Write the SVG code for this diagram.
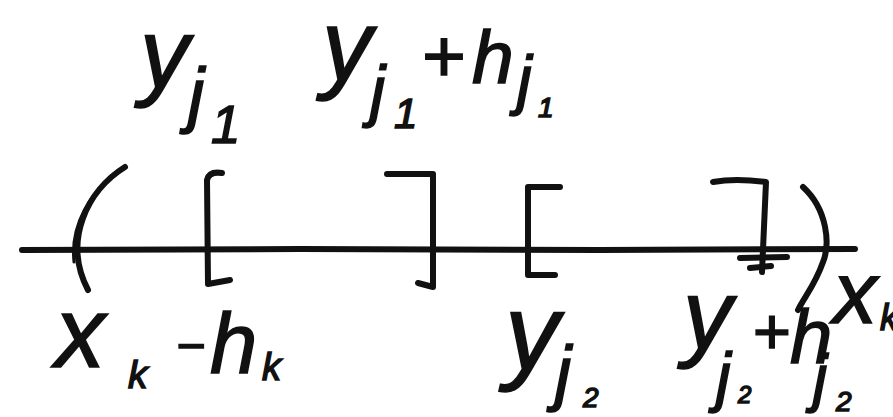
<svg xmlns="http://www.w3.org/2000/svg" width="893" height="417" viewBox="0 0 893 417">
<style>
.ink{fill:none;stroke:#111;stroke-width:6;stroke-linecap:round;stroke-linejoin:round}
.thin{fill:none;stroke:#111;stroke-width:3;stroke-linecap:round}
.lbl{font-family:"Liberation Sans",Arial,sans-serif;font-style:italic;fill:#111;stroke:#111;stroke-width:1.5}
</style>
<rect width="893" height="417" fill="#fff"/>
<g id="axis">
<path class="ink" d="M22,250 L300,249 L600,250 L855,249"/>
<path class="ink" d="M740,258 L787,257"/>
</g>
<g id="brackets">
<path class="ink" d="M125,167 C88,190 62,240 88,290"/>
<path class="thin" d="M119,170 C90,192 70,225 74,262"/>
<path class="ink" d="M222,173 Q209,171 207,180 L208,284 L230,280"/>
<path class="ink" d="M387,174 L433,174 L433,287 L418,283"/>
<path class="ink" d="M560,187 L528,187 L528,275 L555,275"/>
<path class="ink" d="M713,182 Q735,178 766,182 L762,272"/>
<path class="ink" d="M750,268 L771,266"/>
<path class="ink" d="M803,187 C828,210 830,245 823,262 C815,285 805,296 798,310"/>
</g>
<g id="labels">
<text id="lbl-yj1" class="lbl"><tspan x="140" y="88" font-size="98">y</tspan><tspan x="188" y="119" font-size="73">j</tspan><tspan x="211" y="143" font-size="53">1</tspan></text>
<text id="lbl-yj1-plus-hj1" class="lbl"><tspan x="322" y="80" font-size="100">y</tspan><tspan x="370" y="114" font-size="68">j</tspan><tspan x="394" y="128" font-size="42">1</tspan><tspan x="421" y="82" font-size="75">+</tspan><tspan x="472" y="83" font-size="75">h</tspan><tspan x="517" y="102" font-size="66">j</tspan><tspan x="538" y="117" font-size="28">1</tspan></text>
<text id="lbl-xk-minus-hk" class="lbl"><tspan x="55" y="367" font-size="100">x</tspan><tspan x="128" y="388" font-size="39">k</tspan><tspan x="176" y="363" font-size="50">−</tspan><tspan x="210" y="373" font-size="85">h</tspan><tspan x="262" y="380" font-size="38">k</tspan></text>
<text id="lbl-yj2" class="lbl"><tspan x="505" y="370" font-size="108">y</tspan><tspan x="555" y="397" font-size="73">j</tspan><tspan x="583" y="407" font-size="28">2</tspan></text>
<text id="lbl-yj2-plus-hj2" class="lbl"><tspan x="683" y="349" font-size="98">y</tspan><tspan x="716" y="399" font-size="66">j</tspan><tspan x="738" y="403" font-size="24">2</tspan><tspan x="752" y="354" font-size="65">+</tspan><tspan x="790" y="363" font-size="76">h</tspan><tspan x="813" y="400" font-size="64">j</tspan><tspan x="836" y="411" font-size="28">2</tspan></text>
<text id="lbl-xk" class="lbl"><tspan x="833" y="323" font-size="88">x</tspan><tspan x="880" y="330" font-size="36">k</tspan></text>
</g>
</svg>
